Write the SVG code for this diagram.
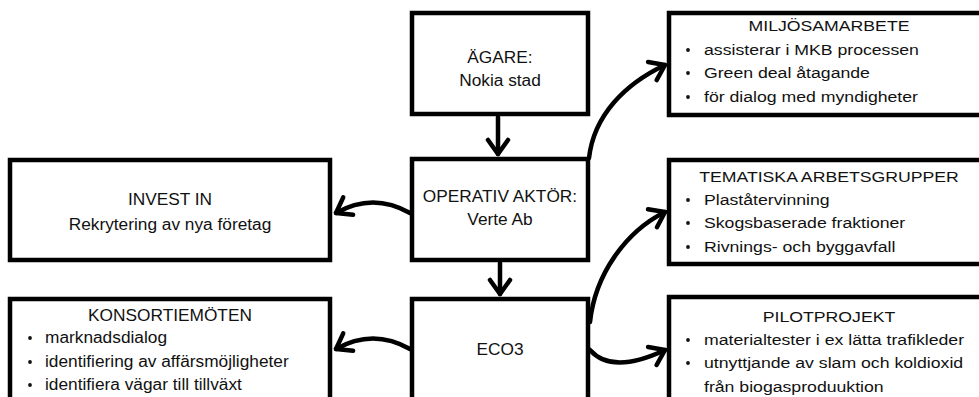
<svg xmlns="http://www.w3.org/2000/svg" width="979" height="397" viewBox="0 0 979 397">
<style>
.box{fill:#fff;stroke:#000;stroke-width:4.5}
.t{font-family:"Liberation Sans",Arial,sans-serif;font-size:17.3px;fill:#111}
.c{text-anchor:middle}
.r{font-family:"Liberation Sans",Arial,sans-serif;font-size:15.5px;fill:#111}
.con{fill:none;stroke:#000;stroke-width:4.5;stroke-linecap:round;marker-end:url(#ah)}
.dot{fill:#111}
</style>
<defs>
<marker id="ah" markerUnits="userSpaceOnUse" markerWidth="40" markerHeight="40" viewBox="-20 -20 40 40" refX="0" refY="0" orient="auto" overflow="visible">
<path d="M-14,-10 L0,0 L-14,10" fill="none" stroke="#000" stroke-width="4.5" stroke-linecap="round" stroke-linejoin="round"/>
</marker>
</defs>
<rect width="979" height="397" fill="#fff"/>

<g id="agare">
<rect class="box" x="412" y="13" width="176" height="101"/>
<text class="t c" x="500" y="63">ÄGARE:</text>
<text class="t c" x="500" y="86">Nokia stad</text>
</g>

<g id="operativ">
<rect class="box" x="412" y="159" width="176" height="101"/>
<text class="t c" x="500" y="202">OPERATIV AKTÖR:</text>
<text class="t c" x="500" y="225">Verte Ab</text>
</g>

<g id="eco3">
<rect class="box" x="412" y="299" width="176" height="130"/>
<text class="t c" x="500" y="355">ECO3</text>
</g>

<g id="invest">
<rect class="box" x="10" y="160" width="320" height="100"/>
<text class="t c" x="170" y="205">INVEST IN</text>
<text class="t c" x="170" y="230">Rekrytering av nya företag</text>
</g>

<g id="konsortie">
<rect class="box" x="10" y="299" width="320" height="130"/>
<text class="t c" x="170" y="321">KONSORTIEMÖTEN</text>
<circle class="dot" cx="30" cy="338" r="1.9"/>
<text class="t" x="45" y="343">marknadsdialog</text>
<circle class="dot" cx="30" cy="362" r="1.9"/>
<text class="t" x="45" y="367">identifiering av affärsmöjligheter</text>
<circle class="dot" cx="30" cy="385" r="1.9"/>
<text class="t" x="45" y="390">identifiera vägar till tillväxt</text>
</g>

<g id="miljo">
<rect class="box" x="669" y="13" width="340" height="102"/>
<text class="r c" transform="translate(829,31) scale(1.14,1)">MILJÖSAMARBETE</text>
<circle class="dot" cx="688" cy="50" r="1.9"/>
<text class="r" transform="translate(704,55) scale(1.14,1)">assisterar i MKB processen</text>
<circle class="dot" cx="688" cy="73" r="1.9"/>
<text class="r" transform="translate(704,78) scale(1.14,1)">Green deal åtagande</text>
<circle class="dot" cx="688" cy="97" r="1.9"/>
<text class="r" transform="translate(704,102) scale(1.14,1)">för dialog med myndigheter</text>
</g>

<g id="tematiska">
<rect class="box" x="669" y="160" width="340" height="104"/>
<text class="r c" transform="translate(829,182) scale(1.14,1)">TEMATISKA ARBETSGRUPPER</text>
<circle class="dot" cx="688" cy="200" r="1.9"/>
<text class="r" transform="translate(704,205) scale(1.14,1)">Plaståtervinning</text>
<circle class="dot" cx="688" cy="223" r="1.9"/>
<text class="r" transform="translate(704,228) scale(1.14,1)">Skogsbaserade fraktioner</text>
<circle class="dot" cx="688" cy="247" r="1.9"/>
<text class="r" transform="translate(704,252) scale(1.14,1)">Rivnings- och byggavfall</text>
</g>

<g id="pilot">
<rect class="box" x="669" y="297" width="340" height="130"/>
<text class="r c" transform="translate(829,322) scale(1.14,1)">PILOTPROJEKT</text>
<circle class="dot" cx="688" cy="340" r="1.9"/>
<text class="r" transform="translate(704,345) scale(1.14,1)">materialtester i ex lätta trafikleder</text>
<circle class="dot" cx="688" cy="363" r="1.9"/>
<text class="r" transform="translate(704,368) scale(1.14,1)">utnyttjande av slam och koldioxid</text>
<text class="r" transform="translate(704,392) scale(1.14,1)">från biogasproduuktion</text>
</g>

<g id="connectors">
<path class="con" d="M498,117 L498,154"/>
<path class="con" d="M500,263 L500,294"/>
<path class="con" d="M410,213 Q373,192 336,213"/>
<path class="con" d="M410,349 Q373,328 336,349"/>
<path class="con" d="M589,158 C594,115 625,84 665,65"/>
<path class="con" d="M590,322 C595,275 625,232 665,212"/>
<path class="con" d="M590,350 Q612,375 665,350"/>
</g>
</svg>
